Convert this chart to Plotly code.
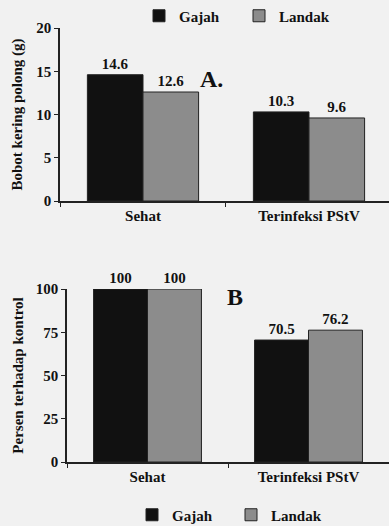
import plotly.graph_objects as go

categories = ["Sehat", "Terinfeksi PStV"]
gajah_bobot = [14.6, 10.3]
landak_bobot = [12.6, 9.6]
gajah_persen = [100, 70.5]
landak_persen = [100, 76.2]
yticks_a = [0, 5, 10, 15, 20]
yticks_b = [0, 25, 50, 75, 100]

W, H = 389, 526
FONT = "Times New Roman, Liberation Serif, DejaVu Serif, serif"
C_GAJAH = "#111111"
C_LANDAK = "#8c8c8c"
BG = "#f1f1f1"

fig = go.Figure()

def bar(name, x, y, color, xa, ya, legend, show):
    return go.Bar(
        name=name, x=x, y=y, xaxis=xa, yaxis=ya,
        marker=dict(color=color, line=dict(color="#222", width=1)),
        text=[f"{v:g}" for v in y], textposition="outside",
        textfont=dict(family=FONT, size=15, color="#111", weight="bold"),
        cliponaxis=False, legend=legend, showlegend=show,
    )

fig.add_trace(bar("Gajah", categories, gajah_bobot, C_GAJAH, "x", "y", "legend", True))
fig.add_trace(bar("Landak", categories, landak_bobot, C_LANDAK, "x", "y", "legend", True))
fig.add_trace(bar("Gajah", categories, gajah_persen, C_GAJAH, "x2", "y2", "legend2", True))
fig.add_trace(bar("Landak", categories, landak_persen, C_LANDAK, "x2", "y2", "legend2", True))

axis_common = dict(showline=True, linecolor="#222", linewidth=1.5, showgrid=False,
                   zeroline=False, ticks="outside", ticklen=4, tickcolor="#222",
                   automargin=False,
                   tickfont=dict(family=FONT, size=15, color="#111", weight="bold"))

fig.update_layout(
    width=W, height=H, margin=dict(l=0, r=0, t=0, b=0, autoexpand=False),
    paper_bgcolor=BG, plot_bgcolor=BG,
    font=dict(family=FONT, size=15, color="#111", weight="bold"),
    barmode="group", bargap=0.33, bargroupgap=0,
    xaxis=dict(domain=[60 / W, 1], range=[-0.5, 1.482], anchor="y",
               tickson="boundaries", **axis_common),
    yaxis=dict(domain=[1 - 201 / H, 1 - 28 / H], range=[0, 20], anchor="x",
               tickvals=yticks_a,
               title=dict(text="Bobot kering polong (g)", standoff=10,
                          font=dict(family=FONT, size=15, weight="bold")),
               **axis_common),
    xaxis2=dict(domain=[67 / W, 1], range=[-0.5, 1.5], anchor="y2",
                tickson="boundaries", **axis_common),
    yaxis2=dict(domain=[1 - 462 / H, 1 - 289 / H], range=[0, 100], anchor="x2",
                tickvals=yticks_b,
                title=dict(text="Persen terhadap kontrol", standoff=9,
                           font=dict(family=FONT, size=15, weight="bold")),
                **axis_common),
    legend=dict(orientation="h", x=139 / W, xanchor="left", y=1 - 16 / H, yanchor="middle",
                bgcolor="rgba(0,0,0,0)", font=dict(family=FONT, size=15, weight="bold"),
                itemwidth=30, entrywidth=55, traceorder="normal"),
    legend2=dict(orientation="h", x=132 / W, xanchor="left", y=1 - 515 / H, yanchor="middle",
                 bgcolor="rgba(0,0,0,0)", font=dict(family=FONT, size=15, weight="bold"),
                 itemwidth=30, entrywidth=54, traceorder="normal"),
    annotations=[
        dict(text="A.", x=212 / W, y=1 - 64 / H, xref="paper", yref="paper",
             showarrow=False, font=dict(family=FONT, size=24, weight="bold", color="#111")),
        dict(text="B", x=235 / W, y=1 - 297 / H, xref="paper", yref="paper",
             showarrow=False, font=dict(family=FONT, size=24, weight="bold", color="#111")),
    ],
)

fig.write_html(
    "out.html",
    config={"displayModeBar": False},
    post_script="document.body.style.margin='0';document.body.style.background='%s';" % BG,
)
